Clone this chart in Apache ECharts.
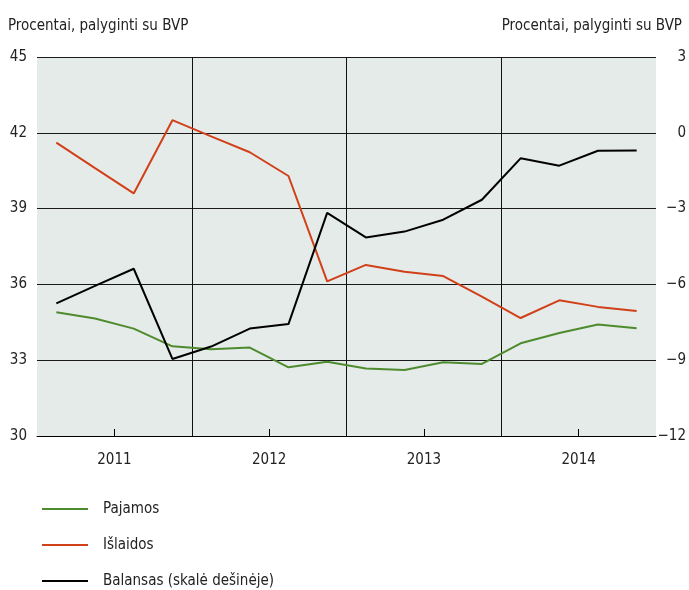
<!DOCTYPE html>
<html>
<head>
<meta charset="utf-8">
<script src="https://cdn.jsdelivr.net/npm/echarts@6/dist/echarts.min.js"></script>
<style>
  html, body { margin: 0; padding: 0; background: #fff; }
  #chart { width: 689px; height: 590px; }
</style>
</head>
<body>
<div id="chart"></div>
<script>
// ketvirčiai 2011 I – 2014 IV
var quarters = ['2011 I', '2011 II', '2011 III', '2011 IV',
                '2012 I', '2012 II', '2012 III', '2012 IV',
                '2013 I', '2013 II', '2013 III', '2013 IV',
                '2014 I', '2014 II', '2014 III', '2014 IV']
var years = ['2011', '2012', '2013', '2014']

var pajamos = [34.9, 34.65, 34.25, 33.55, 33.43, 33.5, 32.72, 32.94,
               32.67, 32.61, 32.92, 32.85, 33.67, 34.08, 34.41, 34.26]
var islaidos = [41.61, 40.6, 39.6, 42.5, 41.86, 41.23, 40.29, 36.12,
                36.77, 36.5, 36.33, 35.52, 34.67, 35.37, 35.11, 34.95]
var balansas = [-6.75, -6.06, -5.38, -8.95, -8.46, -7.75, -7.57, -3.17,
                -4.14, -3.91, -3.44, -2.65, -1.01, -1.3, -0.71, -0.7]

var fontName = "'Liberation Sans Narrow', 'DejaVu Sans Condensed', sans-serif"

var myChart = echarts.init(document.getElementById('chart'))

var option = {
    animation: false,
    color: ['#4e8b2e', '#d2401a', '#000000'],
    textStyle: { fontFamily: fontName },
    title: [
        {
            text: 'Procentai, palyginti su BVP',
            left: 3, top: 14,
            textStyle: { fontSize: 15, fontWeight: 'normal', color: '#222', fontFamily: fontName }
        },
        {
            text: 'Procentai, palyginti su BVP',
            right: 2, top: 14,
            textStyle: { fontSize: 15, fontWeight: 'normal', color: '#222', fontFamily: fontName }
        }
    ],
    legend: {
        orient: 'vertical',
        left: 37, top: 496, height: 120,
        itemWidth: 46, itemHeight: 2,
        itemGap: 20,
        icon: 'rect',
        textStyle: { fontSize: 15, color: '#222', lineHeight: 16, padding: [0, 0, 0, 10], fontFamily: fontName },
        data: ['Pajamos', 'Išlaidos', 'Balansas (skalė dešinėje)']
    },
    grid: {
        left: 37, right: 30, top: 57, bottom: 154,
        show: true, backgroundColor: '#e5ebe8', borderWidth: 0
    },
    xAxis: [
        {
            type: 'category',
            data: quarters,
            show: false
        },
        {
            type: 'category',
            data: years,
            position: 'bottom',
            axisLine: { show: true, lineStyle: { color: '#000', width: 1 } },
            axisTick: { show: true, inside: true, alignWithLabel: true, length: 7, lineStyle: { color: '#000' } },
            axisLabel: { fontSize: 15, color: '#222', margin: 17 },
            splitLine: { show: true, showMinLine: false, showMaxLine: false, lineStyle: { color: '#111', width: 1 } }
        }
    ],
    yAxis: [
        {
            type: 'value',
            min: 30, max: 45, interval: 3,
            axisLine: { show: false },
            axisTick: { show: false },
            axisLabel: { fontSize: 15, color: '#222', margin: 10 },
            splitLine: { show: true, lineStyle: { color: '#1a1a1a', width: 1 } }
        },
        {
            type: 'value',
            min: -12, max: 3, interval: 3,
            position: 'right',
            axisLine: { show: false },
            axisTick: { show: false },
            axisLabel: {
                fontSize: 15, color: '#222', margin: 30, align: 'right',
                formatter: function (v) { return String(v).replace('-', '\u2212') }
            },
            splitLine: { show: false }
        }
    ],
    series: [
        {
            name: 'Pajamos', type: 'line', xAxisIndex: 0, yAxisIndex: 0,
            data: pajamos, symbol: 'none', lineStyle: { width: 2 }
        },
        {
            name: 'Išlaidos', type: 'line', xAxisIndex: 0, yAxisIndex: 0,
            data: islaidos, symbol: 'none', lineStyle: { width: 2 }
        },
        {
            name: 'Balansas (skalė dešinėje)', type: 'line', xAxisIndex: 0, yAxisIndex: 1,
            data: balansas, symbol: 'none', lineStyle: { width: 2 }
        }
    ]
}

myChart.setOption(option)
</script>
</body>
</html>
